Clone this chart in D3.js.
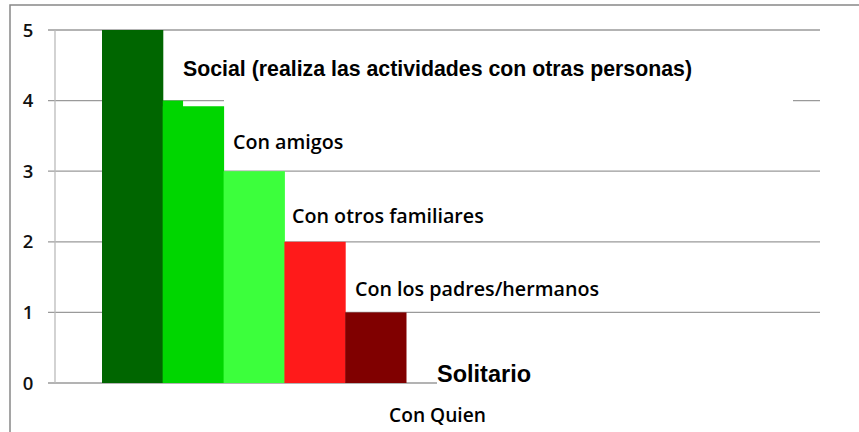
<!DOCTYPE html>
<html lang="es">
<head>
<meta charset="UTF-8">
<title>Con Quien</title>
<script src="https://cdn.jsdelivr.net/npm/d3@7"></script>
<style>
  body { margin: 0; background: #fff; }
</style>
</head>
<body>
<script>
// datos
var categorias = ["Social", "Con amigos", "Con otros familiares", "Con los padres/hermanos", "Solitario"];
var valores = [5, 3.92, 3, 2, 1];
var picoAmigos = 4; // el escalón a la izquierda de la barra verde
var colores = ["#006600", "#00d600", "#3cff3c", "#ff1a1a", "#800000"];
var ticksY = [0, 1, 2, 3, 4, 5];
var etiquetas = [
  ["Social (realiza las actividades con otras personas)", 4.45, 183, true],
  ["Con amigos", 3.41, 233, false],
  ["Con otros familiares", 2.36, 292, false],
  ["Con los padres/hermanos", 1.33, 355, false],
  ["Solitario", 0.13, 437, true]
];
var tituloX = "Con Quien";

var ancho = 859, alto = 432;
var izq = 55, der = 820, arriba = 30, abajo = 383;
var fuente = "'Open Sans', Lato, sans-serif";

var svg = d3.select("body").append("svg")
  .attr("width", ancho)
  .attr("height", alto);

// marco exterior
svg.append("path")
  .attr("d", "M10," + (alto + 2) + "V5H" + (ancho + 2))
  .attr("fill", "none")
  .attr("stroke", "#888")
  .attr("stroke-width", 1.5);

var y = d3.scaleLinear().domain([0, 5]).range([abajo, arriba]);
var x = d3.scaleBand().domain(categorias).range([102, 406]).padding(0);

// rejilla
svg.append("g").selectAll("line")
  .data(ticksY)
  .enter().append("line")
  .attr("x1", 48)
  .attr("x2", function(d) { return d === 0 ? 437 : der; })
  .attr("y1", function(d) { return y(d); })
  .attr("y2", function(d) { return y(d); })
  .attr("stroke", "#9a9a9a")
  .attr("stroke-width", 1.3);

// eje vertical
svg.append("line")
  .attr("x1", izq).attr("x2", izq)
  .attr("y1", y(5)).attr("y2", y(0))
  .attr("stroke", "#bbb")
  .attr("stroke-width", 1.3);

// etiquetas del eje Y
svg.append("g").selectAll("text")
  .data(ticksY)
  .enter().append("text")
  .attr("x", 28)
  .attr("y", function(d) { return y(d); })
  .attr("dy", "0.36em")
  .attr("text-anchor", "middle")
  .attr("font-family", fuente)
  .attr("font-weight", 600)
  .attr("font-size", 18.5)
  .attr("fill", "#111")
  .text(function(d) { return d; });

// barras
svg.append("g").selectAll("rect")
  .data(categorias)
  .enter().append("rect")
  .attr("x", function(d) { return x(d); })
  .attr("y", function(d, i) { return y(valores[i]); })
  .attr("width", x.bandwidth() + 0.5)
  .attr("height", function(d, i) { return y(0) - y(valores[i]); })
  .attr("fill", function(d, i) { return colores[i]; });

// escalón de "Con amigos"
svg.append("rect")
  .attr("x", x("Con amigos"))
  .attr("y", y(picoAmigos))
  .attr("width", x.bandwidth() / 3)
  .attr("height", y(0) - y(picoAmigos))
  .attr("fill", colores[1]);

// caja blanca del rótulo "Social" que tapa la rejilla
svg.append("rect")
  .attr("x", 224)
  .attr("y", y(4) - 3)
  .attr("width", 793 - 224)
  .attr("height", 6)
  .attr("fill", "#fff");

// rótulos
svg.append("g").selectAll("text")
  .data(etiquetas)
  .enter().append("text")
  .attr("x", function(d) { return d[2]; })
  .attr("y", function(d) { return y(d[1]); })
  .attr("dy", "0.36em")
  .attr("font-family", function(d) { return d[3] ? "'Liberation Sans', Arial, sans-serif" : fuente; })
  .attr("font-weight", function(d) { return d[3] ? "bold" : 600; })
  .attr("font-size", function(d) { return d[3] ? (d[0] === "Solitario" ? 23.5 : 21.3) : 19.7; })
  .attr("fill", "#000")
  .text(function(d) { return d[0]; });

svg.append("text")
  .attr("x", (izq + der) / 2)
  .attr("y", 415)
  .attr("dy", "0.36em")
  .attr("text-anchor", "middle")
  .attr("font-family", fuente)
  .attr("font-weight", 600)
  .attr("font-size", 19.2)
  .attr("fill", "#000")
  .text(tituloX);
</script>
</body>
</html>
